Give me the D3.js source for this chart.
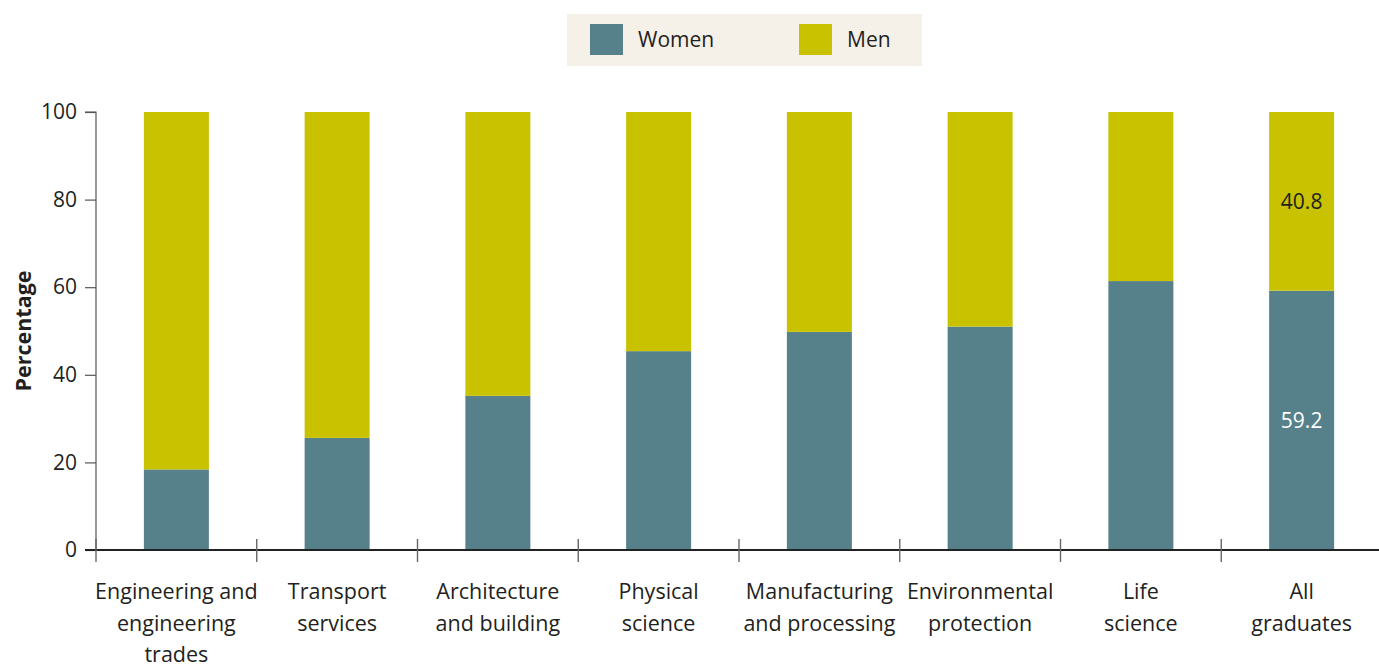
<!DOCTYPE html>
<html>
<head>
<meta charset="utf-8">
<script src="https://cdn.jsdelivr.net/npm/d3@7"></script>
<style>
  html, body { margin: 0; padding: 0; background: #fff; }
  svg { display: block; font-family: "Open Sans", "Noto Sans", sans-serif; }
</style>
</head>
<body>
<svg id="chart" width="1379" height="669"></svg>
<script>
// Share of graduates by field, percent
const categories = [
  ["Engineering and", "engineering", "trades"],
  ["Transport", "services"],
  ["Architecture", "and building"],
  ["Physical", "science"],
  ["Manufacturing", "and processing"],
  ["Environmental", "protection"],
  ["Life", "science"],
  ["All", "graduates"]
];
const women = [18.4, 25.6, 35.2, 45.4, 49.8, 51.0, 61.4, 59.2];
const men   = [81.6, 74.4, 64.8, 54.6, 50.2, 49.0, 38.6, 40.8];
const yTicks = [0, 20, 40, 60, 80, 100];
const labelled = [7]; // bars with value labels

const colors = { women: "#56818a", men: "#c9c200" };

const svg = d3.select("#chart");
const margin = { left: 96, right: -3, top: 112, bottom: 119 };
const W = 1379, H = 669;
const x0 = margin.left, x1 = W - margin.right;
const yBase = H - margin.bottom;

const x = d3.scaleBand().domain(d3.range(categories.length)).range([x0, x1]).paddingInner(0).paddingOuter(0);
const y = d3.scaleLinear().domain([0, 100]).range([yBase, margin.top]);
const barW = 65;

// bars
const g = svg.append("g");
categories.forEach((c, i) => {
  const cx = x(i) + x.bandwidth() / 2;
  g.append("rect")
    .attr("x", cx - barW / 2).attr("width", barW)
    .attr("y", y(women[i])).attr("height", y(0) - y(women[i]))
    .attr("fill", colors.women);
  g.append("rect")
    .attr("x", cx - barW / 2).attr("width", barW)
    .attr("y", y(women[i] + men[i])).attr("height", y(women[i]) - y(women[i] + men[i]))
    .attr("fill", colors.men);
  if (labelled.includes(i)) {
    g.append("text").attr("x", cx).attr("y", y(women[i] / 2))
      .attr("text-anchor", "middle").attr("dy", "0.35em")
      .attr("font-size", 21).attr("fill", "#ffffff").text(women[i].toFixed(1));
    g.append("text").attr("x", cx).attr("y", y(women[i] + men[i] / 2))
      .attr("text-anchor", "middle").attr("dy", "0.35em")
      .attr("font-size", 21).attr("fill", "#222").text(men[i].toFixed(1));
  }
});

// y axis
const yAxis = d3.axisLeft(y).tickValues(yTicks).tickSize(11).tickPadding(8);
const ya = svg.append("g").attr("transform", `translate(${x0},0)`).call(yAxis);
ya.select(".domain").attr("stroke", "#555").attr("stroke-width", 1.2).attr("d", `M-11,${y(100)}H0V${y(0)}`);
ya.selectAll(".tick line").attr("stroke", "#555").attr("stroke-width", 1.2);
ya.selectAll(".tick text").attr("font-size", 21).attr("fill", "#231f20")
  .attr("font-family", "'Open Sans', sans-serif");

// x axis baseline and band separators
const xa = svg.append("g");
xa.append("line").attr("x1", x0 - 11).attr("x2", x1).attr("y1", yBase).attr("y2", yBase)
  .attr("stroke", "#222").attr("stroke-width", 2);
d3.range(categories.length).forEach(i => {
  const sx = x(i);
  xa.append("line").attr("x1", sx).attr("x2", sx).attr("y1", yBase - 11).attr("y2", yBase + 12)
    .attr("stroke", "#666").attr("stroke-width", 1.4);
});

// category labels
categories.forEach((lines, i) => {
  const cx = x(i) + x.bandwidth() / 2;
  const t = svg.append("text").attr("x", cx).attr("y", 599)
    .attr("text-anchor", "middle").attr("font-size", 21.5).attr("fill", "#231f20");
  lines.forEach((l, k) => t.append("tspan").attr("x", cx).attr("dy", k === 0 ? 0 : 31.5).text(l));
});

// y-axis title
svg.append("text").attr("transform", `translate(31,${(y(0) + y(100)) / 2}) rotate(-90)`)
  .attr("text-anchor", "middle").attr("font-size", 21.5).attr("font-weight", "bold")
  .attr("fill", "#231f20").text("Percentage");

// legend
const lg = svg.append("g");
lg.append("rect").attr("x", 567).attr("y", 14).attr("width", 355).attr("height", 52).attr("fill", "#f5f0e8");
[["Women", colors.women, 590], ["Men", colors.men, 799]].forEach(([name, col, lx]) => {
  lg.append("rect").attr("x", lx).attr("y", 24).attr("width", 33).attr("height", 31).attr("fill", col);
  lg.append("text").attr("x", lx + 48).attr("y", 40).attr("dy", "0.35em")
    .attr("font-size", 21).attr("fill", "#231f20").text(name);
});
</script>
</body>
</html>
